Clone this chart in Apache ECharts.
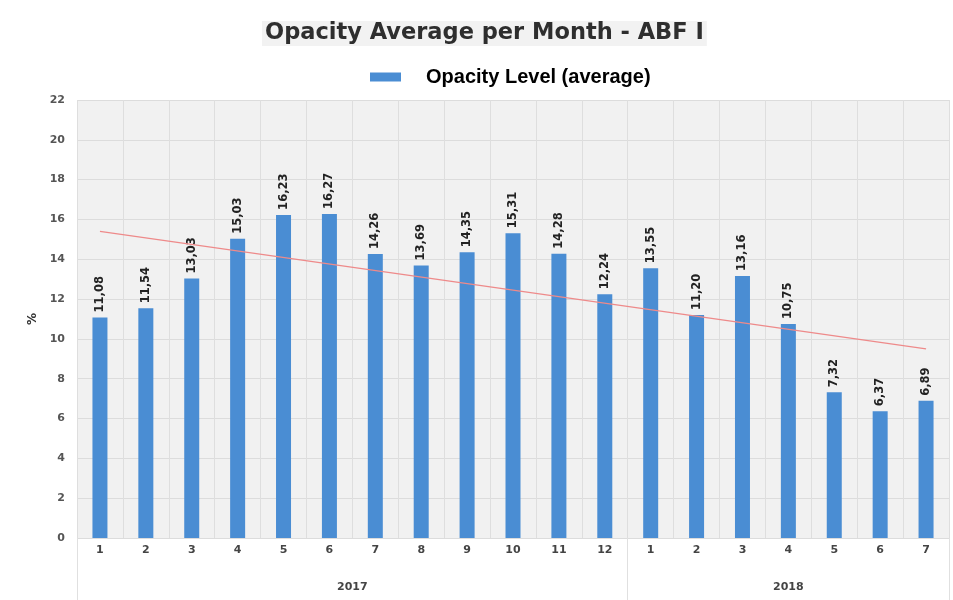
<!DOCTYPE html>
<html>
<head>
<meta charset="utf-8">
<script src="https://cdn.jsdelivr.net/npm/echarts@6/dist/echarts.min.js"></script>
<style>
html,body{margin:0;padding:0;background:#fff;}
#chart{width:953px;height:600px;}
</style>
</head>
<body>
<div id="chart"></div>
<script>
var months = ['1','2','3','4','5','6','7','8','9','10','11','12','1','2','3','4','5','6','7'];
var years = ['2017','2018'];
var yearSpan = [12, 7];
var opacity = [11.08, 11.54, 13.03, 15.03, 16.23, 16.27, 14.26, 13.69, 14.35, 15.31, 14.28, 12.24, 13.55, 11.20, 13.16, 10.75, 7.32, 6.37, 6.89];
var trendStart = 15.4;
var trendEnd = 9.5;
var yTicks = [0, 2, 4, 6, 8, 10, 12, 14, 16, 18, 20, 22];

// trend line: only endpoints, connected
var trendData = months.map(function (m, i) {
  if (i === 0) return trendStart;
  if (i === months.length - 1) return trendEnd;
  return null;
});

// half-month positions for year axis (boundaryGap false)
var n = months.length;
var halfCats = [];
for (var k = 0; k <= 2 * n; k++) halfCats.push('');
var bounds = [0];
var acc = 0;
yearSpan.forEach(function (s, j) {
  var center = acc * 2 + s;
  halfCats[center] = years[j];
  acc += s;
  bounds.push(acc * 2);
});

var chart = echarts.init(document.getElementById('chart'), null, {renderer: 'canvas'});
chart.setOption({
  backgroundColor: '#ffffff',
  animation: false,
  title: {
    text: 'Opacity Average per Month - ABF I',
    left: 262,
    top: 21,
    backgroundColor: '#f2f2f2',
    padding: [1, 3],
    textStyle: {fontFamily: 'DejaVu Sans', fontWeight: 'bold', fontSize: 22.5, color: '#2e2e2e'}
  },
  legend: {
    left: 365,
    top: 62,
    itemWidth: 31,
    itemHeight: 9,
    data: [{name: 'Opacity Level (average)', icon: 'rect'}],
    textStyle: {fontFamily: 'Liberation Sans', fontWeight: 'bold', fontSize: 20, color: '#000', padding: [0, 0, 0, 20]}
  },
  grid: {left: 77, right: 4, top: 100, bottom: 62, show: true, backgroundColor: '#f1f1f1', borderWidth: 0},
  xAxis: [
    {
      type: 'category',
      data: months,
      position: 'bottom',
      axisLine: {show: false},
      axisTick: {show: false},
      axisLabel: {fontFamily: 'DejaVu Sans', fontWeight: 'bold', fontSize: 11, color: '#444', margin: 7},
      splitLine: {show: true, lineStyle: {color: '#dedede', width: 1}}
    },
    {
      type: 'category',
      data: halfCats,
      boundaryGap: false,
      position: 'bottom',
      axisLine: {show: false},
      axisTick: {
        show: true,
        length: 62,
        interval: function (i) { return bounds.indexOf(i) >= 0; },
        lineStyle: {color: '#e0e0e0', width: 1}
      },
      axisLabel: {interval: 0, fontFamily: 'DejaVu Sans', fontWeight: 'bold', fontSize: 11, color: '#444', margin: 44},
      splitLine: {show: false}
    }
  ],
  yAxis: {
    type: 'value',
    min: 0,
    max: 22,
    interval: 2,
    name: '%',
    nameLocation: 'middle',
    nameGap: 38,
    nameRotate: 90,
    nameTextStyle: {fontFamily: 'DejaVu Sans', fontWeight: 'bold', fontSize: 12, color: '#333'},
    axisLine: {show: false},
    axisTick: {show: false},
    axisLabel: {fontFamily: 'DejaVu Sans', fontWeight: 'bold', fontSize: 11, color: '#555', margin: 12,
      formatter: function (v) { return yTicks.indexOf(v) >= 0 ? String(v) : ''; }},
    splitLine: {show: true, lineStyle: {color: '#dcdcdc', width: 1}}
  },
  series: [
    {
      name: 'Opacity Level (average)',
      type: 'bar',
      xAxisIndex: 0,
      data: opacity,
      barWidth: 15,
      itemStyle: {color: '#4a8dd3'},
      label: {
        show: true,
        position: 'top',
        rotate: 90,
        align: 'left',
        verticalAlign: 'middle',
        distance: 5,
        fontFamily: 'DejaVu Sans',
        fontWeight: 'bold',
        fontSize: 11.5,
        color: '#222',
        formatter: function (p) { return p.value.toFixed(2).replace('.', ','); }
      }
    },
    {
      name: 'trend',
      type: 'line',
      xAxisIndex: 0,
      data: trendData,
      connectNulls: true,
      symbol: 'none',
      lineStyle: {color: '#ee8a8a', width: 1.2},
      z: 5
    }
  ]
});
</script>
</body>
</html>
